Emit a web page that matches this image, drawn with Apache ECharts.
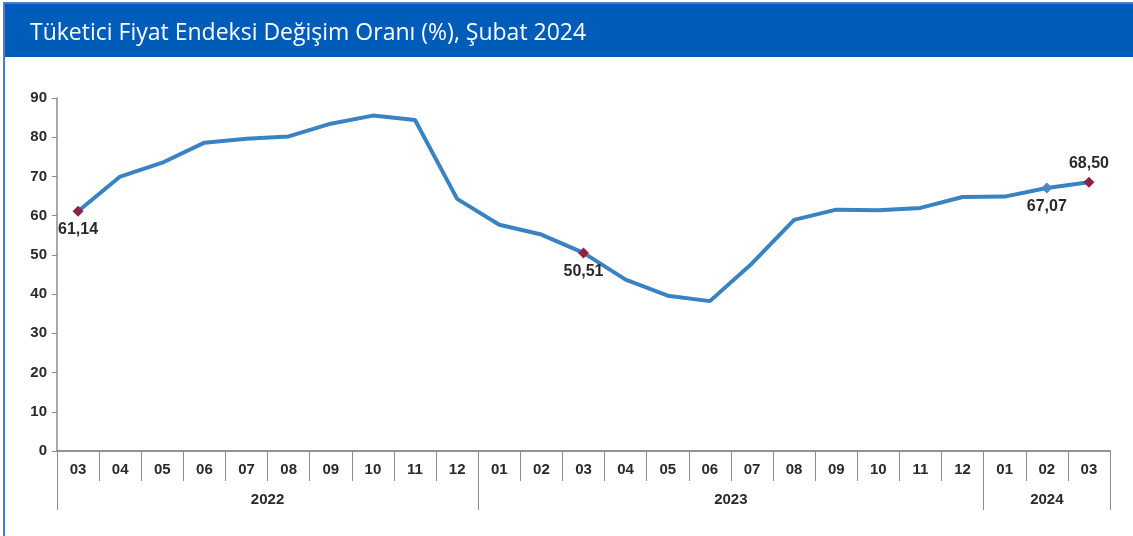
<!DOCTYPE html>
<html lang="tr">
<head>
    <meta charset="UTF-8">
    <title>TÜFE</title>
    <script src="https://cdn.jsdelivr.net/npm/echarts@6/dist/echarts.min.js"></script>
    <style>
        html, body { margin: 0; padding: 0; background: #fff; }
        #main { width: 1133px; height: 536px; }
    </style>
</head>
<body>
<div id="main"></div>
<script type="text/javascript">
    // veriler
    var months = ['03', '04', '05', '06', '07', '08', '09', '10', '11', '12',
        '01', '02', '03', '04', '05', '06', '07', '08', '09', '10', '11', '12',
        '01', '02', '03'];
    var years = ['2022', '2022', '2022', '2022', '2022', '2022', '2022', '2022', '2022', '2022',
        '2023', '2023', '2023', '2023', '2023', '2023', '2023', '2023', '2023', '2023', '2023', '2023',
        '2024', '2024', '2024'];
    var values = [61.14, 69.97, 73.50, 78.62, 79.60, 80.21, 83.45, 85.51, 84.39, 64.27,
        57.68, 55.18, 50.51, 43.68, 39.59, 38.21, 47.83, 58.94, 61.53, 61.36, 61.98, 64.77,
        64.86, 67.07, 68.50];
    var yTicks = [0, 10, 20, 30, 40, 50, 60, 70, 80, 90];
    // işaretli noktalar: indeks, renk, etiket yeri
    var marked = [
        {idx: 0, color: '#8e2344', pos: 'bottom'},
        {idx: 12, color: '#8e2344', pos: 'bottom'},
        {idx: 23, color: '#4f86c6', pos: 'bottom'},
        {idx: 24, color: '#8e2344', pos: 'top'}
    ];

    var lineColor = '#3a82c2';
    var axisColor = '#8c8c8c';
    var textColor = '#2a2a2a';

    var seriesData = values.map(function (v, i) {
        var m = marked.filter(function (o) { return o.idx === i; })[0];
        if (!m) return v;
        return {
            value: v,
            symbol: 'diamond',
            symbolSize: 11,
            itemStyle: {color: m.color},
            label: {
                show: true,
                position: m.pos,
                distance: 5,
                formatter: function (p) { return p.value.toFixed(2).replace('.', ','); }
            }
        };
    });

    // yıl etiketleri: grubun ortasındaki sütunda göster
    function yearLabelIndex(y) {
        var first = years.indexOf(y), last = years.lastIndexOf(y);
        return {idx: Math.floor((first + last) / 2), half: (last - first + 1) % 2 === 0};
    }

    var tickFont = {color: textColor, fontSize: 15, fontFamily: 'Liberation Sans', fontWeight: 'bold'};

    var myChart = echarts.init(document.getElementById('main'));
    var option = {
        backgroundColor: '#fff',
        animation: false,
        graphic: [
            {type: 'rect', left: 3, top: 2, shape: {width: 1130, height: 2}, style: {fill: '#4a7bd0'}, z: 10},
            {type: 'rect', left: 3, top: 2, shape: {width: 2, height: 534}, style: {fill: '#4a7bd0'}, z: 10},
            {type: 'rect', left: 5, top: 4, shape: {width: 1128, height: 53}, style: {fill: '#005cb9'}, z: 9}
        ],
        title: {
            text: 'Tüketici Fiyat Endeksi Değişim Oranı (%), Şubat 2024',
            left: 25,
            top: 17,
            textStyle: {color: '#fff', fontSize: 23, fontWeight: 'normal', fontFamily: 'Open Sans'},
            z: 12
        },
        grid: {left: 57, right: 23, top: 98, bottom: 85},
        xAxis: [
            {
                type: 'category',
                data: months,
                boundaryGap: true,
                axisLine: {show: true, lineStyle: {color: axisColor, width: 1.5}},
                axisTick: {show: true, interval: 0, length: 30, lineStyle: {color: axisColor, width: 1}},
                axisLabel: Object.assign({margin: 11, interval: 0}, tickFont)
            },
            {
                type: 'category',
                position: 'bottom',
                data: years,
                boundaryGap: true,
                axisLine: {show: true, lineStyle: {color: axisColor, width: 1.5}},
                axisTick: {
                    show: true,
                    length: 59,
                    lineStyle: {color: axisColor, width: 1},
                    interval: function (i) { return i === 0 || years[i] !== years[i - 1]; }
                },
                axisLabel: Object.assign({
                    margin: 41,
                    interval: function (i, v) { return yearLabelIndex(v).idx === i; },
                    formatter: function (v) {
                        return yearLabelIndex(v).half ? '{h|' + v + '}' : v;
                    },
                    rich: {h: Object.assign({padding: [0, 0, 0, 42]}, tickFont)}
                }, tickFont)
            }
        ],
        yAxis: {
            type: 'value',
            min: yTicks[0],
            max: yTicks[yTicks.length - 1],
            interval: 10,
            splitLine: {show: false},
            axisLine: {show: true, lineStyle: {color: axisColor, width: 1.5}},
            axisTick: {show: true, length: 5, lineStyle: {color: axisColor}},
            axisLabel: Object.assign({margin: 10}, tickFont)
        },
        series: [{
            type: 'line',
            data: seriesData,
            symbol: 'none',
            smooth: false,
            lineStyle: {color: lineColor, width: 4},
            label: {color: textColor, fontSize: 16, fontWeight: 'bold', fontFamily: 'Liberation Sans'},
            z: 3
        }]
    };
    myChart.setOption(option);
</script>
</body>
</html>
